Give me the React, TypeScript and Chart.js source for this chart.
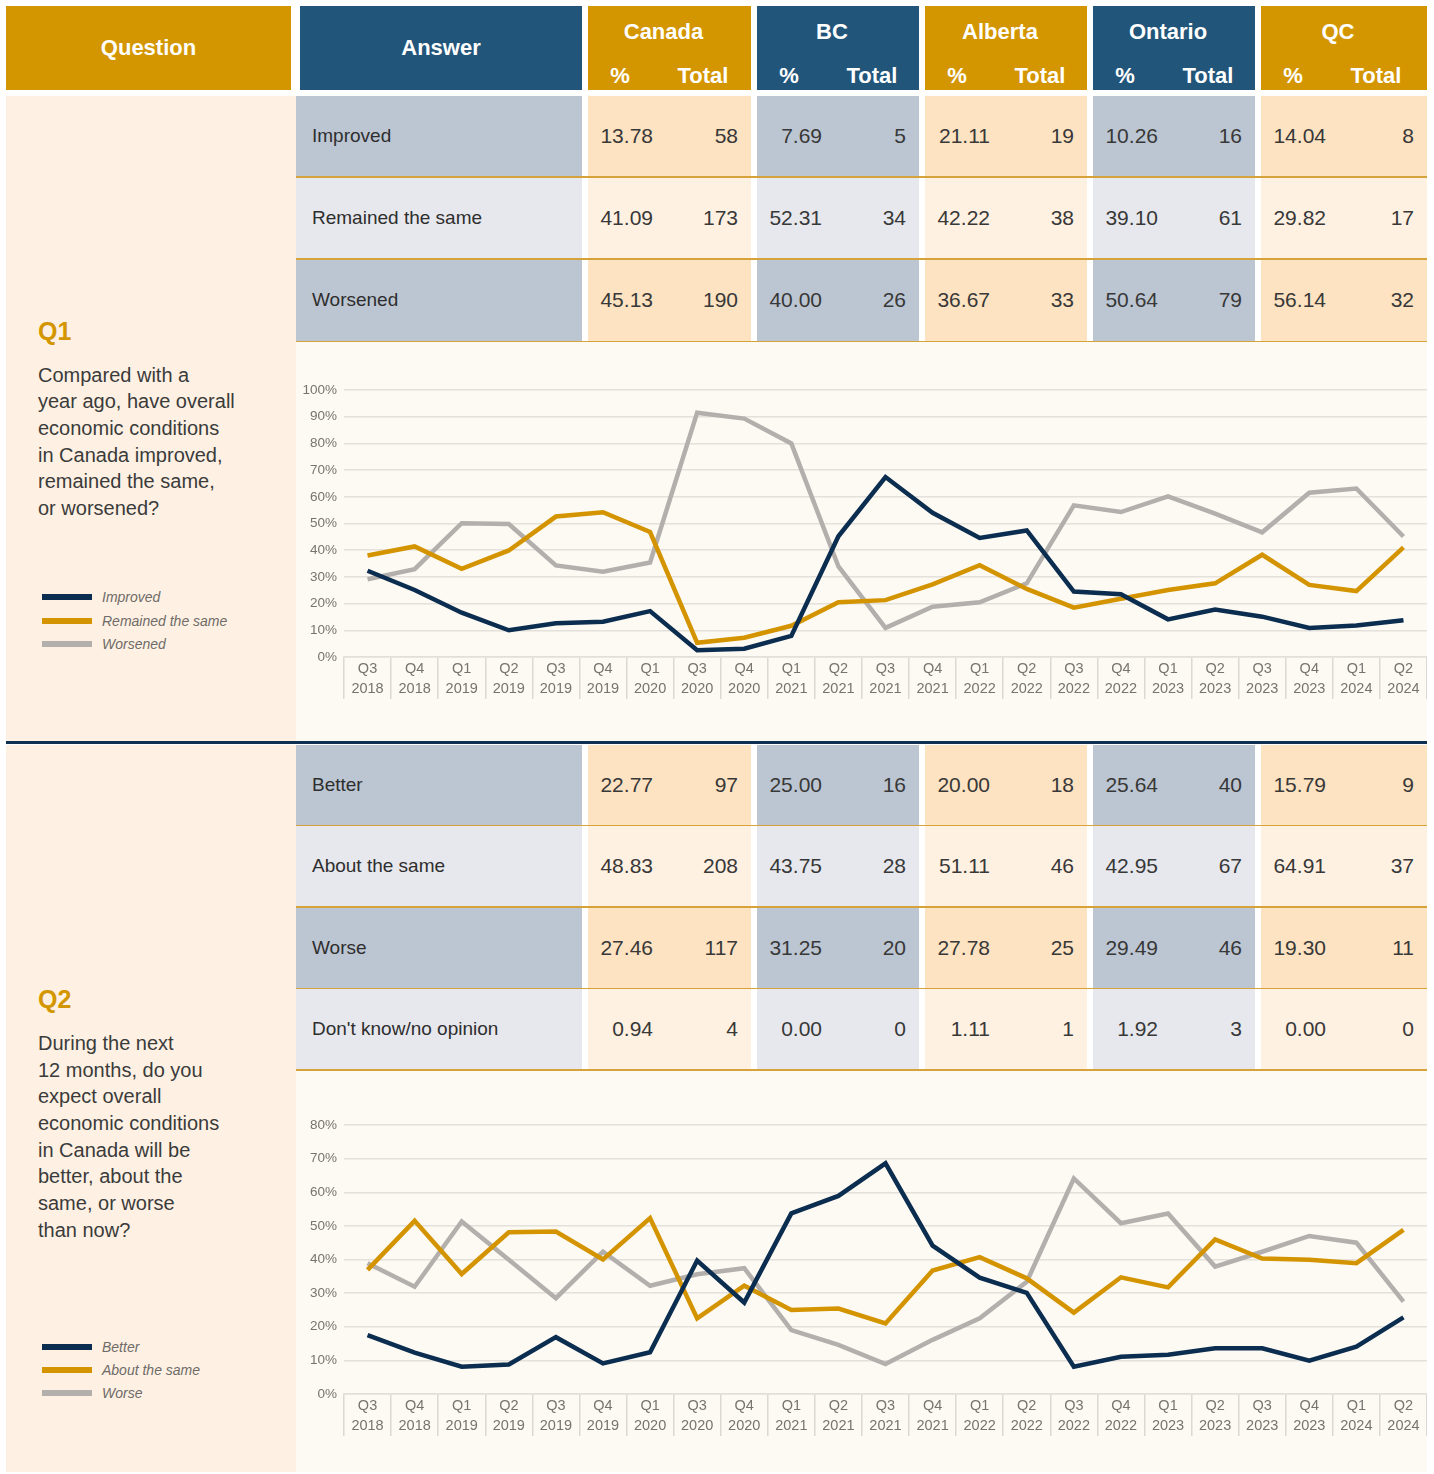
import React, { useEffect, useRef } from 'react';
import { Chart, registerables } from 'chart.js';

Chart.register(...registerables);

// ---------- data ----------
const QUARTERS = ['Q3 2018', 'Q4 2018', 'Q1 2019', 'Q2 2019', 'Q3 2019', 'Q4 2019', 'Q1 2020', 'Q3 2020', 'Q4 2020', 'Q1 2021', 'Q2 2021', 'Q3 2021', 'Q4 2021', 'Q1 2022', 'Q2 2022', 'Q3 2022', 'Q4 2022', 'Q1 2023', 'Q2 2023', 'Q3 2023', 'Q4 2023', 'Q1 2024', 'Q2 2024'];

const Q1_IMPROVED = [32.3, 25.1, 16.6, 10.0, 12.6, 13.2, 17.2, 2.5, 3.1, 7.9, 45.2, 67.4, 54.0, 44.6, 47.4, 24.5, 23.5, 14.1, 17.8, 15.1, 10.9, 11.8, 13.78];
const Q1_REMAINED = [38.0, 41.4, 33.0, 39.9, 52.6, 54.2, 46.8, 5.3, 7.2, 11.7, 20.5, 21.3, 27.2, 34.4, 25.5, 18.5, 21.8, 25.1, 27.6, 38.3, 27.0, 24.7, 41.09];
const Q1_WORSENED = [29.1, 32.9, 50.1, 49.8, 34.3, 31.9, 35.4, 91.5, 89.3, 80.0, 33.9, 10.9, 18.8, 20.5, 27.6, 56.8, 54.3, 60.2, 53.7, 46.7, 61.5, 63.1, 45.13];

const Q2_BETTER = [17.5, 12.3, 8.1, 8.8, 16.9, 9.1, 12.4, 39.7, 27.2, 53.7, 58.9, 68.6, 44.1, 34.6, 30.1, 8.1, 11.1, 11.7, 13.6, 13.6, 9.9, 14.1, 22.77];
const Q2_ABOUT = [36.9, 51.5, 35.7, 48.1, 48.3, 40.0, 52.3, 22.5, 32.2, 25.0, 25.4, 21.0, 36.7, 40.7, 34.4, 24.2, 34.7, 31.7, 46.0, 40.3, 39.9, 38.9, 48.83];
const Q2_WORSE = [38.9, 31.9, 51.3, 39.9, 28.5, 42.3, 32.2, 35.6, 37.4, 19.0, 14.6, 8.9, 16.1, 22.5, 33.4, 64.1, 50.8, 53.7, 37.9, 42.3, 47.0, 45.0, 27.46];

const REGIONS = ['Canada', 'BC', 'Alberta', 'Ontario', 'QC'];

const Q1_ANSWERS = ['Improved', 'Remained the same', 'Worsened'];
const Q1_PCT = [
  ['13.78', '7.69', '21.11', '10.26', '14.04'],
  ['41.09', '52.31', '42.22', '39.10', '29.82'],
  ['45.13', '40.00', '36.67', '50.64', '56.14'],
];
const Q1_TOTAL = [
  [58, 5, 19, 16, 8],
  [173, 34, 38, 61, 17],
  [190, 26, 33, 79, 32],
];

const Q2_ANSWERS = ['Better', 'About the same', 'Worse', "Don't know/no opinion"];
const Q2_PCT = [
  ['22.77', '25.00', '20.00', '25.64', '15.79'],
  ['48.83', '43.75', '51.11', '42.95', '64.91'],
  ['27.46', '31.25', '27.78', '29.49', '19.30'],
  ['0.94', '0.00', '1.11', '1.92', '0.00'],
];
const Q2_TOTAL = [
  [97, 16, 18, 40, 9],
  [208, 28, 46, 67, 37],
  [117, 20, 25, 46, 11],
  [4, 0, 1, 3, 0],
];

const Q1_TITLE = 'Q1';
const Q1_TEXT = ['Compared with a', 'year ago, have overall', 'economic conditions', 'in Canada improved,', 'remained the same,', 'or worsened?'];
const Q2_TITLE = 'Q2';
const Q2_TEXT = ['During the next', '12 months, do you', 'expect overall', 'economic conditions', 'in Canada will be', 'better, about the', 'same, or worse', 'than now?'];

// ---------- styles ----------
const FONT = "'Liberation Sans', Arial, Helvetica, sans-serif";
const HEAD_GOLD = '#d49600';
const HEAD_NAVY = '#22557a';
const LINE_COLORS = ['#0b2d4f', '#d39400', '#b3afac'];
const DARK_BLUE = '#bcc6d2';
const LIGHT_BLUE = '#e7e8ed';
const DARK_PEACH = '#fde3c2';
const LIGHT_PEACH = '#fff1e2';
const Q_BG = '#fef1e3';
const CHART_BG = '#fdf9f3';
const ROW_LINE = '#d6a23a';

const COL_X = [588, 757, 925, 1093, 1261];
const COL_W = [163, 162, 162, 162, 166];

Chart.defaults.font.family = FONT;

type ChartProps = {
  series: number[][];
  names: string[];
  max: number;
  left: number;
  top: number;
  width: number;
  height: number;
  padTop: number;
  padBottom: number;
};

function LineChart(p: ChartProps) {
  const ref = useRef<HTMLCanvasElement>(null);
  useEffect(() => {
    const chart = new Chart(ref.current as HTMLCanvasElement, {
      type: 'line',
      data: {
        labels: QUARTERS.map((q) => q.split(' ')),
        datasets: p.series.map((d, i) => ({
          label: p.names[i],
          data: d,
          borderColor: LINE_COLORS[i],
          backgroundColor: LINE_COLORS[i],
          borderWidth: 4.5,
          pointRadius: 0,
          tension: 0,
          fill: false,
        })),
      },
      options: {
        responsive: true,
        maintainAspectRatio: false,
        animation: false,
        layout: { padding: { top: p.padTop, bottom: p.padBottom, left: 0, right: 0 } },
        plugins: { legend: { display: false }, tooltip: { enabled: false } },
        scales: {
          x: {
            offset: true,
            grid: {
              offset: true,
              drawOnChartArea: false,
              drawTicks: true,
              tickLength: 42,
              color: '#dcd8d3',
              lineWidth: 1.5,
            },
            border: { display: true, color: '#e2dfdb', width: 1.5 },
            ticks: {
              padding: -40,
              color: '#77736f',
              font: { size: 14.5, lineHeight: 1.38 },
              maxRotation: 0,
              autoSkip: false,
            },
            afterFit: (s: any) => {
              s.height = 42;
            },
          },
          y: {
            min: 0,
            max: p.max,
            ticks: {
              stepSize: 10,
              padding: 7,
              color: '#77736f',
              font: { size: 13.5 },
              callback: (v: any) => v + '%',
            },
            grid: { drawTicks: false, color: '#e4e1dc', lineWidth: 1.5 },
            border: { display: false },
            afterFit: (s: any) => {
              s.width = 48;
            },
          },
        },
      } as any,
    });
    return () => chart.destroy();
  }, []);
  return (
    <div style={{ position: 'absolute', left: p.left, top: p.top, width: p.width, height: p.height }}>
      <canvas ref={ref} />
    </div>
  );
}

function Rows({ answers, pct, totals, top0, rowH }: { answers: string[]; pct: string[][]; totals: number[][]; top0: number; rowH: number }) {
  const cellH = rowH - 1.5;
  return (
    <>
      {answers.map((a, r) => {
        const top = top0 + r * rowH;
        const dark = r % 2 === 0;
        return (
          <React.Fragment key={a}>
            <div
              style={{
                position: 'absolute', left: 296, top, width: 286, height: cellH,
                background: dark ? DARK_BLUE : LIGHT_BLUE, color: '#2e2e2e', fontSize: 19,
                lineHeight: cellH + 'px', paddingLeft: 16, boxSizing: 'border-box',
              }}
            >
              {a}
            </div>
            {REGIONS.map((reg, i) => {
              const peach = i % 2 === 0;
              const bg = peach ? (dark ? DARK_PEACH : LIGHT_PEACH) : (dark ? DARK_BLUE : LIGHT_BLUE);
              return (
                <div key={reg} style={{ position: 'absolute', left: COL_X[i], top, width: COL_W[i], height: cellH, background: bg, color: '#383838', fontSize: 21, lineHeight: cellH + 'px' }}>
                  <div style={{ position: 'absolute', left: 0, width: 65, top: 0, textAlign: 'right' }}>{pct[r][i]}</div>
                  <div style={{ position: 'absolute', right: 13, top: 0, textAlign: 'right' }}>{totals[r][i]}</div>
                </div>
              );
            })}
            <div style={{ position: 'absolute', left: 296, top: top + cellH, width: 1131, height: 1.5, background: ROW_LINE }} />
          </React.Fragment>
        );
      })}
    </>
  );
}

function Question({ title, lines, titleTop, textTop }: { title: string; lines: string[]; titleTop: number; textTop: number }) {
  return (
    <>
      <div style={{ position: 'absolute', left: 38, top: titleTop, fontSize: 25, lineHeight: '30px', fontWeight: 'bold', color: '#d49600' }}>{title}</div>
      <div style={{ position: 'absolute', left: 38, top: textTop, fontSize: 20, lineHeight: '26.67px', color: '#3b3b3b', whiteSpace: 'nowrap' }}>
        {lines.map((l) => (
          <div key={l}>{l}</div>
        ))}
      </div>
    </>
  );
}

function Legend({ names, centers }: { names: string[]; centers: number[] }) {
  return (
    <>
      {names.map((n, i) => (
        <React.Fragment key={n}>
          <div style={{ position: 'absolute', left: 42, top: centers[i] - 3, width: 50, height: 6, background: LINE_COLORS[i] }} />
          <div style={{ position: 'absolute', left: 102, top: centers[i] - 10, height: 20, lineHeight: '20px', fontSize: 14, fontStyle: 'italic', color: '#6e6b68', whiteSpace: 'nowrap' }}>{n}</div>
        </React.Fragment>
      ))}
    </>
  );
}

export default function App() {
  const headCell: React.CSSProperties = {
    position: 'absolute', top: 6, height: 84, color: '#ffffff', fontWeight: 'bold', fontSize: 22,
  };
  return (
    <div style={{ position: 'absolute', left: 0, top: 0, width: 1434, height: 1474, background: '#ffffff', fontFamily: FONT, overflow: 'hidden' }}>
      {/* header */}
      <div style={{ ...headCell, left: 6, width: 285, background: HEAD_GOLD, display: 'flex', alignItems: 'center', justifyContent: 'center' }}>Question</div>
      <div style={{ ...headCell, left: 300, width: 282, background: HEAD_NAVY, display: 'flex', alignItems: 'center', justifyContent: 'center' }}>Answer</div>
      {REGIONS.map((r, i) => (
        <div key={r} style={{ ...headCell, left: COL_X[i], width: COL_W[i], background: i % 2 === 0 ? HEAD_GOLD : HEAD_NAVY }}>
          <div style={{ position: 'absolute', left: 0, right: 12, top: 12, height: 28, lineHeight: '28px', textAlign: 'center' }}>{r}</div>
          <div style={{ position: 'absolute', left: 12, width: 40, top: 56, height: 28, lineHeight: '28px', textAlign: 'center' }}>%</div>
          <div style={{ position: 'absolute', left: 80, width: 70, top: 56, height: 28, lineHeight: '28px', textAlign: 'center' }}>Total</div>
        </div>
      ))}

      {/* Q1 section */}
      <div style={{ position: 'absolute', left: 6, top: 95.5, width: 290, height: 645, background: Q_BG }} />
      <Rows answers={Q1_ANSWERS} pct={Q1_PCT} totals={Q1_TOTAL} top0={95.5} rowH={82.2} />
      <div style={{ position: 'absolute', left: 296, top: 342, width: 1131, height: 398.5, background: CHART_BG }} />
      <Question title={Q1_TITLE} lines={Q1_TEXT} titleTop={316} textTop={361.5} />
      <Legend names={Q1_ANSWERS} centers={[596.5, 620.5, 644]} />
      <LineChart series={[Q1_IMPROVED, Q1_REMAINED, Q1_WORSENED]} names={Q1_ANSWERS} max={100} left={296} top={343} width={1131} height={397} padTop={47} padBottom={41} />

      {/* divider */}
      <div style={{ position: 'absolute', left: 6, top: 740.5, width: 1421, height: 3, background: '#0e3152' }} />

      {/* Q2 section */}
      <div style={{ position: 'absolute', left: 6, top: 744.5, width: 290, height: 727.5, background: Q_BG }} />
      <Rows answers={Q2_ANSWERS} pct={Q2_PCT} totals={Q2_TOTAL} top0={744.5} rowH={81.6} />
      <div style={{ position: 'absolute', left: 296, top: 1071, width: 1131, height: 401, background: CHART_BG }} />
      <Question title={Q2_TITLE} lines={Q2_TEXT} titleTop={984} textTop={1030} />
      <Legend names={Q2_ANSWERS.slice(0, 3)} centers={[1346.5, 1369.5, 1393]} />
      <LineChart series={[Q2_BETTER, Q2_ABOUT, Q2_WORSE]} names={Q2_ANSWERS.slice(0, 3)} max={80} left={296} top={1072} width={1131} height={400} padTop={53} padBottom={36} />
    </div>
  );
}
